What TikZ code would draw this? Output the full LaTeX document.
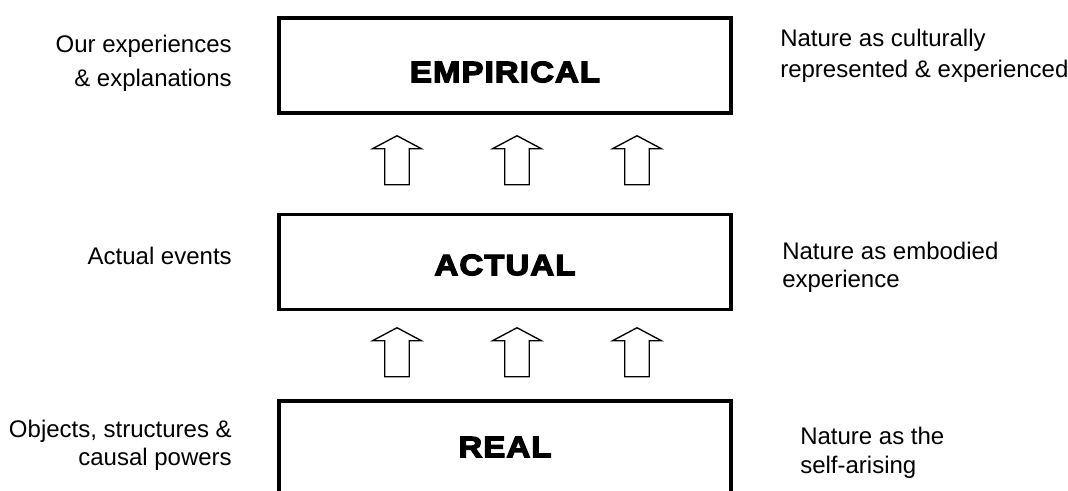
\documentclass[tikz,border=0pt]{standalone}
\usepackage{fontspec}
\setmainfont{Liberation Sans}
\newfontfamily\heavyfont{Liberation Sans}[BoldFeatures={FakeBold=4.5, FakeStretch=1.12}, LetterSpace=4]
\usetikzlibrary{calc}
\begin{document}
\begin{tikzpicture}[x=0.75pt,y=-0.75pt,
  layer/.style={draw, line width=2.7pt, minimum width=339pt, minimum height=71pt, inner sep=0pt},
  boxtext/.style={inner sep=0pt, font=\heavyfont\bfseries\fontsize{22}{26}\selectfont},
  lbl/.style={inner sep=0pt, font=\fontsize{18}{21.75}\selectfont},
  arrowline/.style={draw, line width=1pt, fill=white, line join=miter},
  uparrow/.pic={\path[arrowline] (-12.3,24.5) -- (-12.3,-11.5) -- (-24.5,-11.5) -- (0,-24.5) -- (24.5,-11.5) -- (12.3,-11.5) -- (12.3,24.5) -- cycle;}]
\useasboundingbox (0,0) rectangle (1068,491);
\clip (0,0) rectangle (1068,491);

% boxes
\node[layer] (emp) at (505,65.5) {};
\node[layer] (act) at (505,262) {};
\node[layer, minimum height=89pt] (real) at (505,460.5) {};

\node[boxtext] (empt) at (505,72) {EMPIRICAL};
\node[boxtext] (actt) at (505,265) {ACTUAL};
\node[boxtext] (realt) at (505,447) {REAL};

% block arrows
\foreach \dx in {-108,12,132}{
  \pic at ($(emp.south)!0.5!(act.north)+(\dx,-3.5)$) {uparrow};
  \pic at ($(act.south)!0.5!(real.north)+(\dx,-3)$) {uparrow};
}

% left labels (base anchor = baseline of the last line)
\node[lbl, anchor=base east, align=right, font=\fontsize{18}{25.5}\selectfont] (l1) at (232,86.5) {Our experiences\\\& explanations};
\node[lbl, anchor=base east, align=right] (l2) at (232,265) {Actual events};
\node[lbl, anchor=base east, align=right, font=\fontsize{18}{21.4}\selectfont] (l3) at (232,466) {Objects, structures \&\\causal powers};

% right labels
\node[lbl, anchor=base west, align=left, font=\fontsize{18}{23.25}\selectfont] (r1) at (780,77.5) {Nature as culturally\\represented \& experienced};
\node[lbl, anchor=base west, align=left, font=\fontsize{18}{21}\selectfont] (r2) at (782,288) {Nature as embodied\\experience};
\node[lbl, anchor=base west, align=left, font=\fontsize{18}{21.75}\selectfont] (r3) at (800,474) {Nature as the\\self-arising};
\end{tikzpicture}
\end{document}
